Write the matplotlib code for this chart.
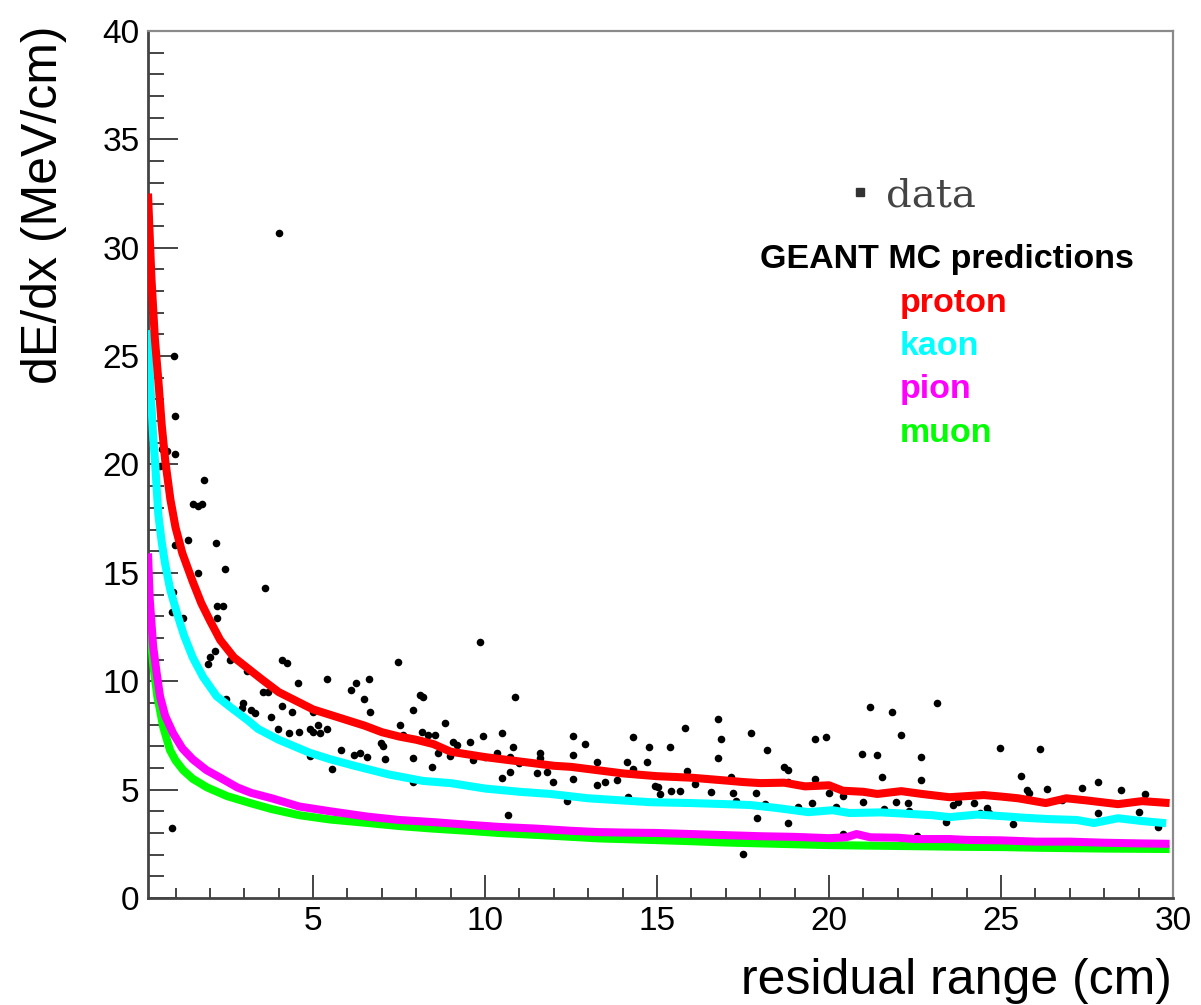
import matplotlib
matplotlib.use("Agg")
import matplotlib.pyplot as plt
from matplotlib.lines import Line2D
from matplotlib.ticker import MultipleLocator

# measured data points: residual range (cm), dE/dx (MeV/cm)
data_x = [0.99, 0.6, 0.75, 0.99, 0.55, 1.83, 1.51, 1.66, 1.77, 0.99, 1.37, 2.18,
          2.44, 1.66, 3.6, 0.93, 0.9, 1.22, 2.2, 2.38, 2.2, 2.15, 2.0, 1.95, 2.59,
          3.08, 4.1, 4.24, 4.56, 5.4, 3.55, 3.68, 2.47, 6.1, 6.25, 6.63, 6.48, 7.47,
          9.85, 8.1, 8.2, 10.87, 4.0, 0.95, 0.9,
          2.97, 2.94, 3.2, 3.3, 3.78, 4.1, 4.4, 5.0, 3.98, 4.3, 4.6, 4.9, 5.0, 5.15,
          5.2, 5.4, 5.8, 5.55, 4.9, 6.2, 6.37, 6.57, 6.66, 6.98, 7.03, 7.1, 7.53, 7.6,
          7.9, 8.17, 8.34, 8.55, 7.9, 7.9, 8.46, 8.63, 8.98, 8.84, 9.07, 9.19, 9.56,
          9.94, 9.65, 10.0, 10.35, 10.5, 10.8, 10.73, 10.73, 10.5, 10.67, 11.6, 11.6,
          11.5, 11.8, 11.98, 12.38, 12.56, 12.56, 12.9, 12.56, 13.25, 13.25, 11.0,
          14.3, 14.77, 14.13, 14.7, 14.3, 14.16, 13.84, 13.5, 14.94, 15.03, 15.09,
          15.38, 15.8, 15.87, 15.4, 15.67, 16.1, 16.57, 16.77, 16.86, 16.77, 17.15,
          17.2, 17.3, 17.73, 17.88, 17.9, 18.14, 18.2, 18.7, 18.8, 18.8, 18.8, 19.1,
          19.6, 19.9, 19.6, 19.5, 20.0, 20.2, 20.4, 20.4, 17.5,
          21.2, 21.83, 23.14, 22.1, 20.96, 21.4, 22.67, 21.54, 22.67, 21.0, 21.95,
          22.3, 22.33, 21.6, 22.55, 24.97, 26.13, 25.58, 25.76, 25.8, 26.34, 27.35,
          27.82, 27.82, 28.5, 29.2, 29.0, 29.56, 23.6, 23.75, 24.2, 24.4, 24.6, 24.65,
          23.4, 25.35, 26.77]
data_y = [22.26, 20.7, 20.6, 20.5, 19.95, 19.3, 18.2, 18.1, 18.2, 16.3, 16.5, 16.4,
          15.2, 15.0, 14.3, 14.1, 13.2, 12.9, 13.45, 13.45, 12.9, 11.4, 11.1, 10.8, 11.0,
          10.46, 10.97, 10.83, 9.9, 10.1, 9.5, 9.5, 9.2, 9.6, 9.9, 10.1, 9.2, 10.9,
          11.8, 9.35, 9.26, 9.26, 30.7, 25.0, 3.23,
          8.99, 8.75, 8.66, 8.53, 8.34, 8.85, 8.57, 8.57, 7.79, 7.6, 7.65, 7.79, 7.65, 7.97,
          7.6, 7.79, 6.82, 5.94, 6.54, 6.6, 6.68, 6.5, 8.57, 7.14, 7.0, 6.4, 7.97, 7.5,
          8.66, 7.65, 7.5, 7.5, 6.45, 5.35, 6.04, 6.68, 6.54, 8.06, 7.19, 7.05, 7.19,
          7.46, 6.36, 6.5, 6.68, 7.6, 6.96, 6.5, 5.8, 5.53, 3.82, 6.68, 6.45,
          5.76, 5.8, 5.35, 4.47, 7.46, 6.6, 7.1, 5.48, 6.27, 5.2, 6.25,
          7.42, 6.96, 6.27, 6.27, 5.94, 4.65, 5.44, 5.35, 5.16, 5.1, 4.8,
          6.96, 7.83, 5.85, 4.93, 4.93, 5.25, 4.88, 8.25, 7.33, 6.45, 5.58,
          4.84, 4.47, 7.6, 4.84, 3.69, 4.33, 6.82, 6.04, 5.9, 5.35, 3.46, 4.2,
          7.33, 7.42, 5.48, 4.38, 4.84, 4.2, 4.7, 2.95, 2.05,
          8.8, 8.57, 9.0, 7.5, 6.64, 6.6, 6.5, 5.58, 5.44, 4.42, 4.42,
          4.38, 4.0, 4.1, 2.86, 6.9, 6.87, 5.62, 4.98, 4.84, 5.02, 5.07,
          5.35, 3.92, 4.98, 4.8, 3.96, 3.27, 4.29, 4.42, 4.38, 3.92, 4.15, 3.92,
          3.5, 3.4, 4.52]

# GEANT MC predictions
proton_x = [0.2, 0.3, 0.4, 0.5, 0.6, 0.7, 0.85, 1.0, 1.2, 1.5, 1.75, 2.0, 2.3, 2.7,
            3.1, 3.5, 4.0, 4.5, 5.0, 5.5, 6.0, 6.5, 7.0, 7.5, 8.0, 8.5, 9.0, 10.0,
            11.0, 12.0, 12.5, 13.0, 14.0, 15.0, 16.0, 17.0, 17.5, 18.0, 18.7, 19.3,
            20.0, 20.4, 21.0, 21.4, 22.1, 22.7, 23.5, 24.5, 25.0, 25.5, 26.3, 26.9,
            27.5, 28.4, 29.1, 29.9]
proton_y = [32.5, 28.6, 25.8, 23.9, 21.8, 20.2, 18.4, 17.1, 15.9, 14.6, 13.6, 12.8,
            11.9, 11.1, 10.6, 10.1, 9.5, 9.1, 8.7, 8.45, 8.2, 7.95, 7.65, 7.45, 7.3,
            7.1, 6.75, 6.5, 6.3, 6.1, 6.05, 5.95, 5.75, 5.62, 5.55, 5.42, 5.35, 5.3,
            5.32, 5.15, 5.2, 4.95, 4.9, 4.8, 4.93, 4.8, 4.65, 4.75, 4.68, 4.6, 4.38,
            4.6, 4.5, 4.33, 4.47, 4.38]

kaon_x = [0.2, 0.26, 0.35, 0.41, 0.5, 0.6, 0.7, 0.85, 1.05, 1.25, 1.5, 1.8, 2.2,
          2.6, 3.1, 3.4, 4.0, 4.9, 5.5, 6.2, 7.2, 8.2, 9.0, 10.0, 11.0, 11.9, 13.0,
          14.0, 14.8, 16.0, 17.0, 17.7, 18.5, 19.4, 20.1, 20.6, 21.5, 22.1, 23.0,
          23.5, 24.3, 25.0, 25.7, 26.4, 27.2, 27.7, 28.4, 29.1, 29.8]
kaon_y = [26.2, 23.9, 21.3, 20.0, 17.7, 16.4, 15.4, 14.2, 13.1, 12.1, 11.1, 10.2, 9.3,
          8.8, 8.2, 7.8, 7.3, 6.7, 6.4, 6.1, 5.7, 5.4, 5.3, 5.05, 4.9, 4.8, 4.6,
          4.5, 4.42, 4.38, 4.33, 4.29, 4.15, 3.96, 4.05, 3.92, 3.95, 3.9, 3.82,
          3.73, 3.85, 3.78, 3.7, 3.64, 3.6, 3.46, 3.68, 3.55, 3.45]

pion_x = [0.2, 0.25, 0.35, 0.45, 0.55, 0.7, 0.93, 1.2, 1.5, 1.9, 2.3, 2.8, 3.2, 3.8,
          4.6, 5.5, 6.6, 7.5, 8.5, 9.5, 10.4, 11.5, 12.5, 13.3, 14.0, 15.0, 16.0,
          17.0, 18.0, 19.0, 20.0, 20.5, 20.8, 21.2, 22.0, 22.5, 23.5, 24.0, 25.0,
          26.0, 27.0, 28.0, 29.0, 29.9]
pion_y = [15.9, 13.8, 11.6, 10.4, 9.3, 8.4, 7.6, 6.9, 6.4, 5.9, 5.55, 5.1, 4.85, 4.6,
          4.22, 4.0, 3.75, 3.6, 3.5, 3.38, 3.28, 3.2, 3.1, 3.04, 3.02, 3.0, 2.95,
          2.9, 2.85, 2.82, 2.76, 2.8, 2.95, 2.8, 2.78, 2.72, 2.72, 2.68, 2.66,
          2.6, 2.6, 2.55, 2.52, 2.5]

muon_x = [0.2, 0.25, 0.35, 0.47, 0.55, 0.64, 0.84, 1.0, 1.22, 1.5, 1.92, 2.5, 3.17,
          3.8, 4.6, 5.5, 6.6, 7.5, 8.5, 9.5, 10.4, 11.85, 13.3, 15.0, 16.0, 17.0,
          18.0, 19.0, 20.0, 21.0, 22.0, 23.0, 24.0, 25.0, 26.0, 27.0, 28.0, 29.0, 29.9]
muon_y = [14.1, 12.5, 10.8, 9.3, 8.66, 7.9, 6.82, 6.35, 5.9, 5.5, 5.1, 4.7, 4.38,
          4.1, 3.82, 3.62, 3.46, 3.32, 3.2, 3.1, 3.0, 2.88, 2.75, 2.67, 2.62, 2.56,
          2.52, 2.48, 2.44, 2.42, 2.4, 2.38, 2.36, 2.35, 2.32, 2.3, 2.28, 2.27, 2.26]

particles = ["proton", "kaon", "pion", "muon"]
colors = {"proton": "#ff0000", "kaon": "#00ffff", "pion": "#ff00ff", "muon": "#00ff00"}

plt.rcParams['font.family'] = ['Liberation Sans', 'DejaVu Sans']

W, H = 1201, 1005
fig = plt.figure(figsize=(W / 100, H / 100), dpi=100)
ax = fig.add_axes([148 / W, 1 - 898 / H, (1173 - 148) / W, (898 - 31) / H])

ax.scatter(data_x, data_y, s=30, color='black', linewidths=0, zorder=2)

curves = {"muon": (muon_x, muon_y), "pion": (pion_x, pion_y),
          "kaon": (kaon_x, kaon_y), "proton": (proton_x, proton_y)}
for name, (cx, cy) in curves.items():
    ax.plot(cx, cy, color=colors[name], lw=5.8, solid_capstyle='butt', zorder=3)

ax.set_xlim(0.2, 30)
ax.set_ylim(0, 40)
ax.xaxis.set_major_locator(MultipleLocator(5))
ax.xaxis.set_minor_locator(MultipleLocator(1))
ax.yaxis.set_major_locator(MultipleLocator(5))
ax.yaxis.set_minor_locator(MultipleLocator(1))
ax.set_xticks([5, 10, 15, 20, 25, 30])

ax.tick_params(axis='both', which='both', direction='in', top=False, right=False,
               width=1.4, color='#444444', labelsize=24, labelcolor='black')
ax.tick_params(axis='y', which='major', length=21.5, pad=6)
ax.tick_params(axis='y', which='minor', length=11.5)
ax.tick_params(axis='x', which='major', length=16.5, pad=6)
ax.tick_params(axis='x', which='minor', length=7.5)

for side in ['left', 'bottom']:
    ax.spines[side].set_color('#444444')
    ax.spines[side].set_linewidth(2.0)
for side in ['top', 'right']:
    ax.spines[side].set_color('#8a8a8a')
    ax.spines[side].set_linewidth(1.6)

fig.text(44 / W, 1 - 26 / H, 'dE/dx (MeV/cm)', rotation=90, ha='center', va='top',
         fontsize=36)
fig.text(1172 / W, 1 - 994 / H, 'residual range (cm)', ha='right', va='baseline',
         fontsize=36)

# legend
handle = Line2D([], [], marker='s', ls='', color='#333333', ms=5.5)
leg = fig.legend([handle], ['data'], loc='center left',
                 bbox_to_anchor=(852 / W, 1 - 196 / H), frameon=False,
                 borderpad=0, borderaxespad=0, handlelength=0.4, handletextpad=0.45,
                 prop={'family': 'DejaVu Serif', 'size': 29})
for t in leg.get_texts():
    t.set_color('#444444')

fig.text(760 / W, 1 - 268 / H, 'GEANT MC predictions', ha='left', va='baseline',
         fontsize=24.5, fontweight='bold', color='black')
baselines = [312, 355, 398, 442]
for name, b in zip(particles, baselines):
    fig.text(900 / W, 1 - b / H, name, ha='left', va='baseline', fontsize=24.5,
             fontweight='bold', color=colors[name])

fig.savefig('out.png', dpi=100)
